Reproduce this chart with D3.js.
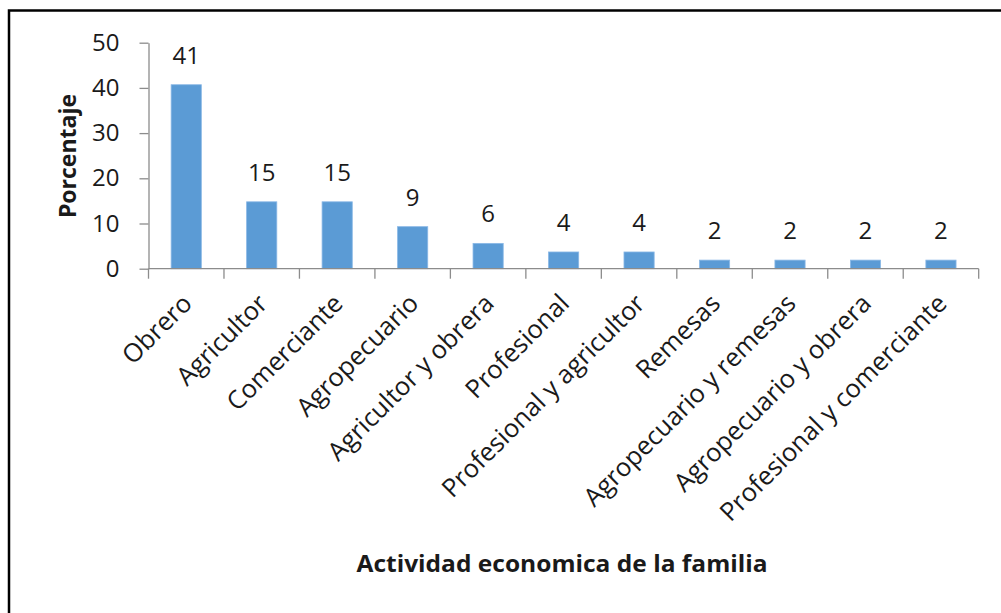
<!DOCTYPE html>
<html>
<head>
<meta charset="utf-8">
<script src="https://cdn.jsdelivr.net/npm/d3@7"></script>
<style>
  html, body { margin: 0; padding: 0; background: #fff; }
  svg { display: block; }
  text { font-family: "Open Sans", "Noto Sans", sans-serif; fill: #1a1a1a; }
</style>
</head>
<body>
<svg id="chart" width="1001" height="613"></svg>
<script>
const categories = ["Obrero", "Agricultor", "Comerciante", "Agropecuario", "Agricultor y obrera",
  "Profesional", "Profesional y agricultor", "Remesas", "Agropecuario y remesas",
  "Agropecuario y obrera", "Profesional y comerciante"];
const values = [40.7, 14.8, 14.8, 9.3, 5.6, 3.7, 3.7, 1.9, 1.9, 1.9, 1.9];
const labels = ["41", "15", "15", "9", "6", "4", "4", "2", "2", "2", "2"];
const yTicks = [0, 10, 20, 30, 40, 50];
const yTitle = "Porcentaje";
const xTitle = "Actividad economica de la familia";

const svg = d3.select("#chart");

// outer frame (only top and left edges visible in the reference)
svg.append("rect")
  .attr("x", 9).attr("y", 10.5)
  .attr("width", 1200).attr("height", 800)
  .attr("fill", "none").attr("stroke", "#000").attr("stroke-width", 2.5);

const x = d3.scaleBand().domain(categories).range([148.5, 978.7]).padding(0);
const y = d3.scaleLinear().domain([0, 50]).range([268.7, 42.7]);
const axisColor = "#8c8c8c";

// bars
const bw = x.bandwidth() * 0.4;
svg.append("g").selectAll("rect").data(categories).join("rect")
  .attr("x", (d) => x(d) + (x.bandwidth() - bw) / 2)
  .attr("y", (d, i) => y(values[i]))
  .attr("width", bw)
  .attr("height", (d, i) => y(0) - y(values[i]))
  .attr("fill", "#5B9BD5")
  .attr("stroke", "#8ab8e6").attr("stroke-width", 0.8);

// y axis
const yAxis = svg.append("g")
  .attr("transform", `translate(${x.range()[0]},0)`)
  .call(d3.axisLeft(y).tickValues(yTicks).tickSize(9).tickSizeOuter(0).tickPadding(20));
yAxis.select(".domain").attr("stroke", axisColor).attr("stroke-width", 1.3);
yAxis.selectAll(".tick line").attr("stroke", axisColor).attr("stroke-width", 1.3);
yAxis.selectAll(".tick text")
  .attr("font-family", "Open Sans").attr("font-size", 24).attr("fill", "#1a1a1a");

// x axis line + boundary ticks
const xAxisG = svg.append("g");
xAxisG.append("line")
  .attr("x1", x.range()[0]).attr("x2", x.range()[1])
  .attr("y1", y(0)).attr("y2", y(0))
  .attr("stroke", axisColor).attr("stroke-width", 1.3);
const bounds = categories.map((c) => x(c)).concat([x.range()[1]]);
xAxisG.selectAll("line.t").data(bounds).join("line").attr("class", "t")
  .attr("x1", (d) => d).attr("x2", (d) => d)
  .attr("y1", y(0)).attr("y2", y(0) + 10)
  .attr("stroke", axisColor).attr("stroke-width", 1.3);

// category labels rotated -45
svg.append("g").selectAll("text").data(categories).join("text")
  .attr("transform", (d) => `translate(${x(d) + x.bandwidth() / 2 + 1},${y(0) + 30}) rotate(-45)`)
  .attr("text-anchor", "end")
  .attr("dy", "0.35em")
  .attr("font-size", 25.5)
  .text((d) => d);

// data labels
svg.append("g").selectAll("text").data(categories).join("text")
  .attr("x", (d) => x(d) + x.bandwidth() / 2)
  .attr("y", (d, i) => y(values[i]) - 21)
  .attr("text-anchor", "middle")
  .attr("font-size", 24)
  .text((d, i) => labels[i]);

// axis titles
svg.append("text")
  .attr("transform", "translate(76,156) rotate(-90)")
  .attr("text-anchor", "middle")
  .attr("font-size", 23).attr("font-weight", "bold")
  .text(yTitle);

svg.append("text")
  .attr("x", 562).attr("y", 572)
  .attr("text-anchor", "middle")
  .attr("font-size", 23).attr("font-weight", "bold")
  .attr("textLength", 411).attr("lengthAdjust", "spacingAndGlyphs")
  .text(xTitle);
</script>
</body>
</html>
